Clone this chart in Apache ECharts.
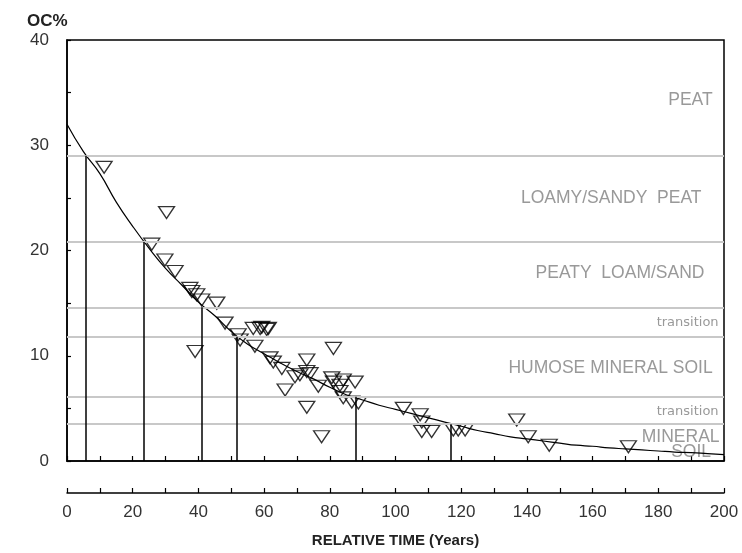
<!DOCTYPE html>
<html>
<head>
<meta charset="utf-8">
<script src="https://cdn.jsdelivr.net/npm/echarts@6/dist/echarts.min.js"></script>
<style>html,body{margin:0;padding:0;background:#fff;}#c{width:742px;height:553px;}</style>
</head>
<body>
<div id="c"></div>
<script>
// ---- data ----
const curveX = [0,5,10,15,20,25,30,35,40,45,50,55,60,65,70,75,80,85,90,95,100,105,110,115,120,125,130,135,140,145,150,155,160,165,170,175,180,185,190,195,200];
const curveY = [32.0,29.4,27.3,24.6,22.3,20.2,18.3,16.7,15.1,13.8,12.3,11.1,10.2,9.3,8.5,7.8,7.0,6.3,5.8,5.3,4.9,4.5,4.1,3.7,3.3,2.9,2.6,2.3,2.1,1.9,1.7,1.5,1.4,1.25,1.15,1.05,0.95,0.85,0.8,0.7,0.6];

const obsX = [11.3,30.3,25.8,29.8,32.9,37.4,38.0,39.5,41.0,45.6,48.1,52.1,52.7,56.7,58.8,60.8,59.3,61.3,57.2,39.0,61.8,62.8,65.4,73.0,70.9,74.0,69.4,76.5,66.4,81.1,81.1,83.1,84.1,73.0,73.0,80.6,84.1,87.7,83.1,86.7,88.7,77.5,102.4,107.5,108.0,108.0,111.0,117.6,119.1,121.2,136.9,140.4,146.8,170.9];
const obsY = [27.9,23.6,20.6,19.1,18.0,16.4,16.1,15.8,15.3,15.0,13.1,12.0,11.5,12.6,12.6,12.5,12.7,12.6,10.9,10.4,9.8,9.4,8.8,9.6,8.2,8.3,8.0,7.1,6.75,10.7,7.5,7.2,6.0,5.1,8.5,7.9,7.7,7.5,6.6,5.6,5.5,2.3,5.0,4.4,3.7,2.8,2.8,2.95,2.95,2.95,3.9,2.3,1.5,1.35];

// class boundaries (OC%) and the times where the curve crosses them
const boundaries = [29.0,20.8,14.6,11.8,6.1,3.5];
const crossTimes = [5.8,23.3,41.0,51.8,87.8,116.7];

// band labels
const bigLabels = ['PEAT','LOAMY/SANDY  PEAT','PEATY  LOAM/SAND','HUMOSE MINERAL SOIL','MINERAL','SOIL'];
const bigLabelX = [196.7,193.3,194.2,196.7,198.8,196.2];
const bigLabelY = [34.2,24.9,17.8,8.8,2.2,0.76];
const smallLabels = ['transition','transition'];
const smallLabelX = [198.5,198.5];
const smallLabelY = [13.1,4.66];

const yTicks = [0,10,20,30,40];
const xTickLabels = [0,20,40,60,80,100,120,140,160,180,200];

const chart = echarts.init(document.getElementById('c'), null, {renderer:'canvas'});

const curveData = curveX.map((x,i)=>[x,curveY[i]]);
const obsData = obsX.map((x,i)=>[x,obsY[i]]);
const dropLines = crossTimes.map((t,i)=>[{coord:[t,0]},{coord:[t,boundaries[i]]}]);
const bandLines = boundaries.map(v=>({yAxis:v}));

const bigData = bigLabels.map((n,i)=>({name:n,value:[bigLabelX[i],bigLabelY[i]]}));
const smallData = smallLabels.map((n,i)=>({name:n,value:[smallLabelX[i],smallLabelY[i]]}));

const option = {
  animation:false,
  backgroundColor:'#fff',
  title:{text:'OC%',left:22,top:8,textStyle:{fontFamily:'Liberation Sans',fontSize:17,fontWeight:'bold',color:'#222'}},
  grid:{left:67,right:18,top:40,bottom:92,show:true,borderColor:'#000',borderWidth:1.5,backgroundColor:'transparent'},
  xAxis:[
    {type:'value',min:0,max:200,interval:10,position:'bottom',
     axisLine:{show:true,lineStyle:{color:'#000',width:1.5}},
     axisTick:{show:true,inside:true,length:5,lineStyle:{color:'#000',width:1.2}},
     axisLabel:{show:false},splitLine:{show:false}},
    {type:'value',min:0,max:200,interval:10,position:'bottom',offset:32,
     axisLine:{show:true,onZero:false,lineStyle:{color:'#000',width:1.5}},
     axisTick:{show:true,inside:true,length:5,lineStyle:{color:'#000',width:1.2}},
     axisLabel:{show:true,margin:11,fontFamily:'Liberation Sans',fontSize:17,color:'#333',
       formatter:v=>xTickLabels.indexOf(v)>=0?String(v):''},
     splitLine:{show:false},
     name:'RELATIVE TIME (Years)',nameLocation:'middle',nameGap:40,
     nameTextStyle:{fontFamily:'Liberation Sans',fontSize:15,fontWeight:'bold',color:'#222'}}
  ],
  yAxis:{type:'value',min:0,max:40,interval:5,
    axisLine:{show:true,onZero:false,lineStyle:{color:'#000',width:1.5}},
    axisTick:{show:true,inside:true,length:4,lineStyle:{color:'#000',width:1.2}},
    axisLabel:{margin:18,fontFamily:'Liberation Sans',fontSize:17,color:'#333',
      formatter:v=>yTicks.indexOf(v)>=0?String(v):''},
    splitLine:{show:false}},
  series:[
    {type:'line',data:[],silent:true,
     markLine:{silent:true,symbol:['none','none'],label:{show:false},
       lineStyle:{color:'#c8c8c8',width:2,type:'solid'},data:bandLines},z:1},
    {type:'line',data:curveData,smooth:true,showSymbol:false,silent:true,
     lineStyle:{color:'#000',width:1.2},z:3,
     markLine:{silent:true,symbol:['none','none'],label:{show:false},
       lineStyle:{color:'#000',width:1.5,type:'solid'},data:dropLines}},
    {type:'scatter',data:obsData,symbol:'triangle',symbolRotate:180,symbolSize:[16,12],
     itemStyle:{color:'rgba(255,255,255,0)',borderColor:'#000',borderWidth:1.3},z:4,silent:true},
    {type:'scatter',data:bigData,symbolSize:1,itemStyle:{color:'rgba(0,0,0,0)'},silent:true,z:2,
     label:{show:true,position:[0,0],align:'right',verticalAlign:'middle',formatter:p=>p.name,
       fontFamily:'Liberation Sans',fontSize:17.5,color:'#808080'}},
    {type:'scatter',data:smallData,symbolSize:1,itemStyle:{color:'rgba(0,0,0,0)'},silent:true,z:2,
     label:{show:true,position:[0,0],align:'right',verticalAlign:'middle',formatter:p=>p.name,
       fontFamily:'DejaVu Sans',fontSize:13,color:'#808080'}}
  ]
};
chart.setOption(option);
</script>
</body>
</html>
